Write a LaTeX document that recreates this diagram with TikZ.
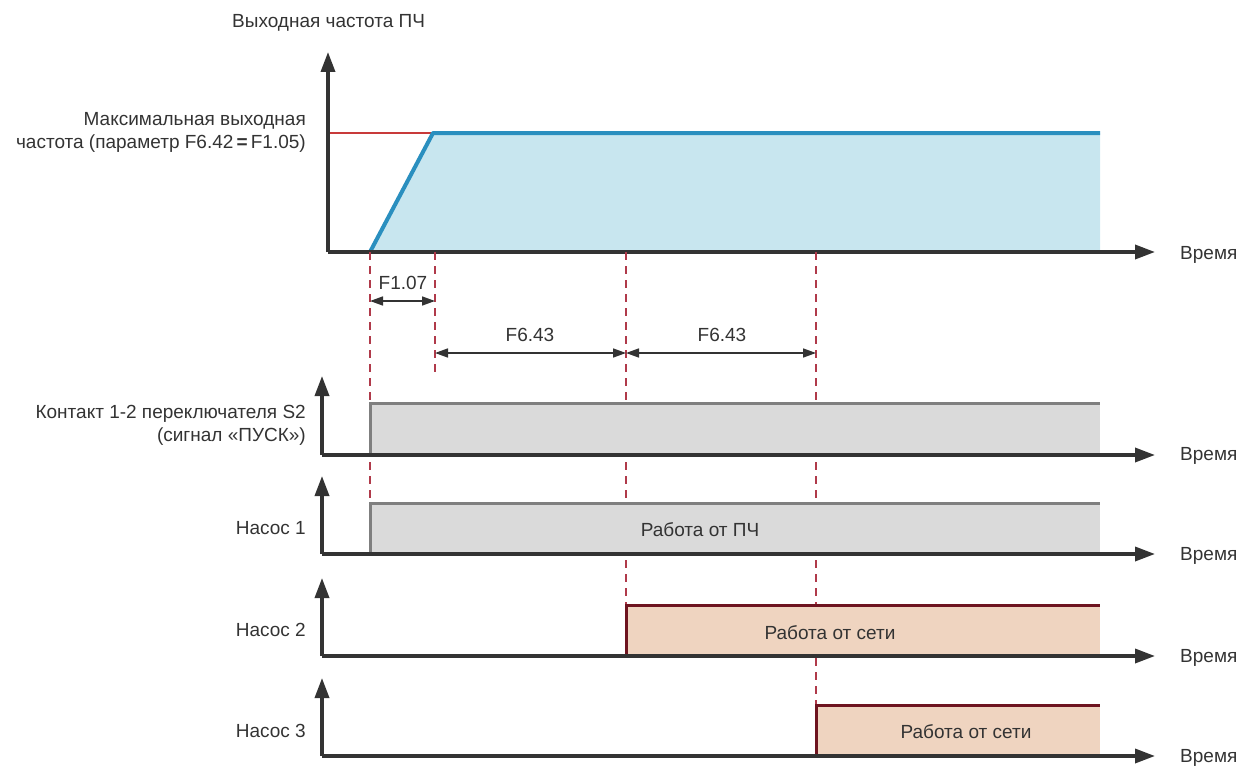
\documentclass[tikz,border=0pt]{standalone}
\usepackage{fontspec}
\setmainfont{Liberation Sans}
\usetikzlibrary{arrows.meta}
\definecolor{axisc}{HTML}{333333}
\definecolor{bluel}{HTML}{2A8FBF}
\definecolor{bluef}{HTML}{C8E6EF}
\definecolor{redl}{HTML}{C83A3A}
\definecolor{dashc}{HTML}{B03A4A}
\definecolor{grayf}{HTML}{DADADA}
\definecolor{grayl}{HTML}{7F7F7F}
\definecolor{peachf}{HTML}{EFD4C0}
\definecolor{darkred}{HTML}{6E1420}
\begin{document}
\begin{tikzpicture}[x=1pt,y=-1pt,
  every node/.style={font=\fontsize{19}{23}\selectfont, text=axisc, inner sep=0pt},
  axis/.style={draw=axisc, line width=3.5pt, -{Triangle[length=20pt,width=14pt]}},
  guide/.style={draw=dashc, line width=1.5pt, dash pattern=on 8pt off 6pt},
  dim/.style={draw=axisc, line width=1.6pt, {Triangle[length=13pt,width=9pt]}-{Triangle[length=13pt,width=9pt]}},
  grayblk/.style={fill=grayf},
  grayedge/.style={draw=grayl, line width=3pt},
  peachblk/.style={fill=peachf},
  peachedge/.style={draw=darkred, line width=3pt},
  lbl/.style={anchor=east, align=right},
  timel/.style={anchor=west}
]
\useasboundingbox (0,0) rectangle (1241,765);
% ---------- top chart ----------
\fill[bluef] (370,252) -- (433,133) -- (1100,133) -- (1100,252) -- cycle;
\draw[redl, line width=1.5pt] (328,133) -- (433,133);
\draw[bluel, line width=4pt, line join=round] (370,252) -- (433,133) -- (1100,133);
\coordinate (o0) at (328,252);
\coordinate (y0) at (328,52);
\coordinate (x0) at (1155,252);
\draw[axis] (o0) -- (y0);
\draw[axis] (o0) -- (x0);
\node[anchor=west] (ttl) at (232,23) {Выходная частота ПЧ};
\node[lbl] (fmax) at (306,132) {Максимальная выходная\\частота (параметр F6.42\,\textbf{=}\,F1.05)};
\node[timel] (t0) at (1180,255) {Время};
% ---------- guides ----------
\coordinate (g1a) at (370,252); \coordinate (g1b) at (370,503);
\coordinate (g2a) at (435,252); \coordinate (g2b) at (435,375);
\coordinate (g3a) at (626,252); \coordinate (g3b) at (626,605);
\coordinate (g4a) at (816,252); \coordinate (g4b) at (816,705);
\draw[guide] (g1a) -- (g1b);
\draw[guide] (g2a) -- (g2b);
\draw[guide] (g3a) -- (g3b);
\draw[guide] (g4a) -- (g4b);
% ---------- dimensions ----------
\coordinate (d1a) at (370,301); \coordinate (d1b) at (435,301);
\coordinate (d2a) at (435,353); \coordinate (d2b) at (626,353);
\coordinate (d3a) at (626,353); \coordinate (d3b) at (816,353);
\draw[dim] (d1a) -- (d1b);
\draw[dim] (d2a) -- (d2b);
\draw[dim] (d3a) -- (d3b);
\node (l1) at (403,283) {F1.07};
\node (l2) at (530,335) {F6.43};
\node (l3) at (722,335) {F6.43};
% ---------- Контакт ----------
\fill[grayblk] (370,403) rectangle (1100,455);
\draw[grayedge] (370,455) -- (370,403) -- (1100,403);
\coordinate (o1) at (322,455);
\coordinate (y1) at (322,376);
\coordinate (x1) at (1155,455);
\draw[axis] (o1) -- (y1);
\draw[axis] (o1) -- (x1);
\node[lbl] (k1) at (306,425) {Контакт 1-2 переключателя S2\\(сигнал «ПУСК»)};
\node[timel] (t1) at (1180,456) {Время};
% ---------- Насос 1 ----------
\fill[grayblk] (370,503) rectangle (1100,554);
\draw[grayedge] (370,554) -- (370,503) -- (1100,503);
\coordinate (o2) at (322,554);
\coordinate (y2) at (322,476);
\coordinate (x2) at (1155,554);
\draw[axis] (o2) -- (y2);
\draw[axis] (o2) -- (x2);
\node[lbl] (n1) at (306,528) {Насос 1};
\node (w1) at (700,530) {Работа от ПЧ};
\node[timel] (t2) at (1180,556) {Время};
% ---------- Насос 2 ----------
\fill[peachblk] (626,605) rectangle (1100,656);
\draw[peachedge] (626,656) -- (626,605) -- (1100,605);
\coordinate (o3) at (322,656);
\coordinate (y3) at (322,578);
\coordinate (x3) at (1155,656);
\draw[axis] (o3) -- (y3);
\draw[axis] (o3) -- (x3);
\node[lbl] (n2) at (306,630) {Насос 2};
\node (w2) at (830,633) {Работа от сети};
\node[timel] (t3) at (1180,658) {Время};
% ---------- Насос 3 ----------
\fill[peachblk] (816,705) rectangle (1100,756);
\draw[peachedge] (816,756) -- (816,705) -- (1100,705);
\coordinate (o4) at (322,756);
\coordinate (y4) at (322,678);
\coordinate (x4) at (1155,756);
\draw[axis] (o4) -- (y4);
\draw[axis] (o4) -- (x4);
\node[lbl] (n3) at (306,731) {Насос 3};
\node (w3) at (966,732) {Работа от сети};
\node[timel] (t4) at (1180,758) {Время};
\end{tikzpicture}
\end{document}
